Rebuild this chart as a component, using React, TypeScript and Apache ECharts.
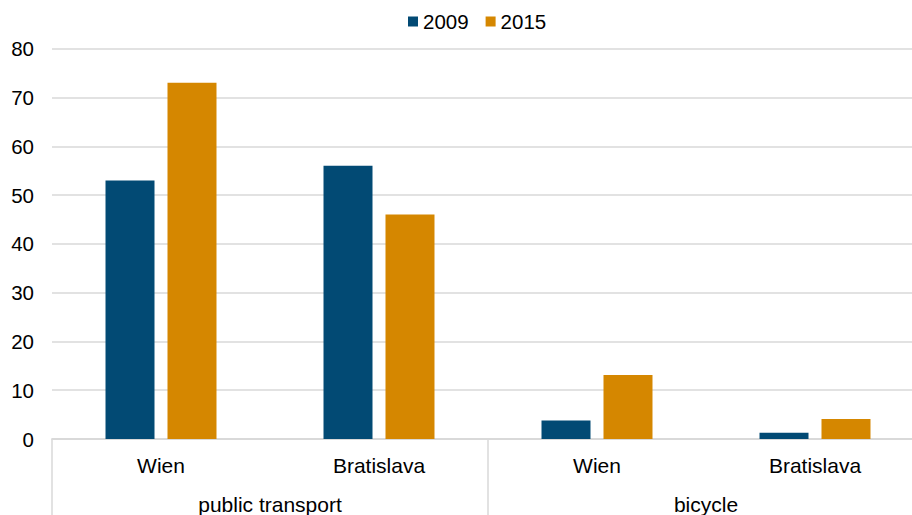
import React, { useEffect, useRef } from "react";
import * as echarts from "echarts";

const categories = ["Wien", "Bratislava", "Wien", "Bratislava"];
const groups = ["public transport", "bicycle"];
const seriesNames = ["2009", "2015"];
const values2009 = [53, 56, 3.8, 1.3];
const values2015 = [73, 46, 13.1, 4.1];
const yTicks = { min: 0, max: 80, interval: 10 };

const FONT = "'Liberation Sans', Arial, sans-serif";
const GRID_COLOR = "#d9d9d9";

export default function App() {
  const ref = useRef<HTMLDivElement>(null);

  useEffect(() => {
    if (!ref.current) return;
    const chart = echarts.init(ref.current, null, { renderer: "svg" });
    chart.setOption({
      animation: false,
      textStyle: { fontFamily: FONT },
      color: ["#024A74", "#D58700"],
      legend: {
        data: seriesNames,
        left: 403,
        top: 6,
        icon: "rect",
        itemWidth: 10,
        itemHeight: 10,
        itemGap: 17,
        textStyle: { fontSize: 20.5, color: "#000", fontFamily: FONT },
      },
      grid: { left: 52, top: 48.7, right: 12, bottom: 75, containLabel: false },
      yAxis: {
        type: "value",
        min: yTicks.min,
        max: yTicks.max,
        interval: yTicks.interval,
        axisLine: { show: false },
        axisTick: { show: false },
        axisLabel: { fontSize: 20.5, color: "#000", margin: 18, fontFamily: FONT },
        splitLine: { lineStyle: { color: GRID_COLOR, width: 1.5 } },
      },
      xAxis: [
        {
          type: "category",
          data: categories,
          position: "bottom",
          axisLine: { lineStyle: { color: GRID_COLOR, width: 1.5 } },
          axisTick: { show: false },
          axisLabel: { fontSize: 21, color: "#000", margin: 16, fontFamily: FONT, interval: 0 },
        },
        {
          type: "category",
          data: groups,
          position: "bottom",
          axisLine: { show: true, lineStyle: { color: GRID_COLOR, width: 1.5 } },
          axisTick: {
            show: true,
            length: 80,
            interval: 0,
            alignWithLabel: false,
            lineStyle: { color: GRID_COLOR, width: 1.5 },
          },
          axisLabel: { fontSize: 21, color: "#000", margin: 55, fontFamily: FONT, interval: 0 },
        },
      ],
      series: [
        {
          name: seriesNames[0],
          type: "bar",
          xAxisIndex: 0,
          data: values2009,
          barWidth: 49,
          barGap: "26.5%",
        },
        {
          name: seriesNames[1],
          type: "bar",
          xAxisIndex: 0,
          data: values2015,
          barWidth: 49,
          barGap: "26.5%",
        },
      ],
    });
    return () => chart.dispose();
  }, []);

  return (
    <div
      style={{
        position: "fixed",
        left: 0,
        top: 0,
        width: 912,
        height: 515,
        overflow: "hidden",
        background: "#fff",
      }}
    >
      <div ref={ref} style={{ width: 936, height: 515 }} />
    </div>
  );
}
